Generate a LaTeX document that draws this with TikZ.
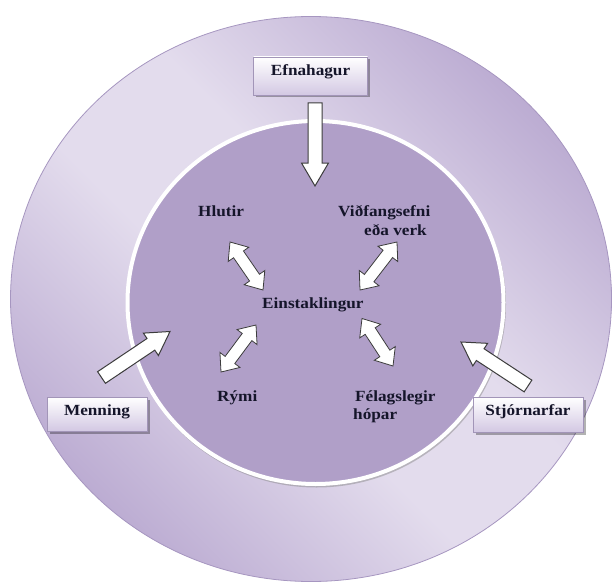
\documentclass[tikz,border=0pt]{standalone}
\usepackage{fontspec}
\setmainfont{Liberation Serif}
\newfontfamily\labfont[FakeStretch=1.11]{Liberation Serif}
\usetikzlibrary{calc,shadows}
\definecolor{ringend}{HTML}{BAAAD1}
\definecolor{ringmid}{HTML}{E3DCED}
\definecolor{ringline}{HTML}{A696C0}
\definecolor{innerfill}{HTML}{B09FC8}
\definecolor{boxbot}{HTML}{D3C8E3}
\definecolor{boxline}{HTML}{A295B8}
\definecolor{textcol}{HTML}{15152A}
\definecolor{arrline}{HTML}{3C3C3C}
\pgfdeclarehorizontalshading{ringshade}{100bp}{color(0bp)=(ringend); color(24bp)=(ringend); color(44bp)=(ringmid); color(56bp)=(ringmid); color(76bp)=(ringend); color(100bp)=(ringend)}
\tikzset{
  labfnt/.style={font=\labfont\bfseries\fontsize{15.5}{19}\selectfont, text=textcol},
  boxnode/.style={rectangle, draw=boxline, line width=0.6pt, top color=white, bottom color=boxbot,
    inner sep=0pt, labfnt, text height=11pt,
    drop shadow={shadow xshift=2.5pt, shadow yshift=-2.5pt, fill=black, opacity=0.3}},
  lab/.style={inner sep=0pt, anchor=base west, labfnt},
  bigarr/.style={draw=arrline, line width=1pt, fill=white, line join=miter},
  dblarr/.style={draw=arrline, line width=0.8pt, fill=white, line join=miter},
}
\newcommand\bigarrow[2]{%
  \coordinate (#1c) at ($(#2)!23pt!(#1)$);
  \draw[bigarr] ($(#1)!7pt!90:(#2)$) -- ($(#1c)!7pt!90:(#2)$) -- ($(#1c)!13.5pt!90:(#2)$) -- (#2)
    -- ($(#1c)!13.5pt!-90:(#2)$) -- ($(#1c)!7pt!-90:(#2)$) -- ($(#1)!7pt!-90:(#2)$) -- cycle;}
\newcommand\dblarrow[2]{%
  \coordinate (#1c) at ($(#1)!15pt!(#2)$);
  \coordinate (#2c) at ($(#2)!15pt!(#1)$);
  \draw[dblarr] (#1) -- ($(#1c)!12.5pt!90:(#2)$) -- ($(#1c)!6pt!90:(#2)$) -- ($(#2c)!6pt!90:(#2)$)
    -- ($(#2c)!12.5pt!90:(#2)$) -- (#2) -- ($(#2c)!12.5pt!-90:(#2)$) -- ($(#2c)!6pt!-90:(#2)$)
    -- ($(#1c)!6pt!-90:(#2)$) -- ($(#1c)!12.5pt!-90:(#2)$) -- cycle;}
\begin{document}
\begin{tikzpicture}[x=1pt,y=-1pt]
\useasboundingbox (0,0) rectangle (612,583);
% outer ring
\path[draw=ringline, line width=0.8pt, shading=ringshade, shading angle=45]
  (311,299) ellipse (300.5 and 282.5);
% inner circle with white rim and soft shadow
\draw[black!45, line width=3pt, opacity=0.5] (316.5,304.5) ellipse (188 and 181.5);
\draw[white, line width=4pt, fill=innerfill] (315.5,302.5) ellipse (188 and 181.5);
% text nodes
\node[lab] (hlu) at (198,216.5) {Hlutir};
\node[lab] (vid1) at (338,216.5) {Viðfangsefni};
\node[lab] (vid2) at (364,235.5) {eða verk};
\node[lab] (ein) at (262,308.5) {Einstaklingur};
\node[lab] (rym) at (217,401) {Rými};
\node[lab] (fel1) at (355,401) {Félagslegir};
\node[lab] (fel2) at (353,419.5) {hópar};
% boxes
\node[boxnode, minimum width=114pt, minimum height=38pt, text depth=12.5pt] (efn) at (310.5,76) {Efnahagur};
\node[boxnode, minimum width=100pt, minimum height=34pt, text depth=9pt] (men) at (97,414) {Menning};
\node[boxnode, minimum width=110pt, minimum height=35pt, text depth=10pt] (stj) at (528,414.5) {Stjórnarfar};
% big arrows
\coordinate (efA) at (315,103);
\coordinate (efB) at (315,186);
\coordinate (meA) at (101.5,377.5);
\coordinate (meB) at (170,331.5);
\coordinate (stA) at (528,386);
\coordinate (stB) at (461,342);
\bigarrow{efA}{efB}
\bigarrow{meA}{meB}
\bigarrow{stA}{stB}
% double arrows
\coordinate (hlA) at (230,242);
\coordinate (hlB) at (263,290);
\coordinate (viA) at (397,242);
\coordinate (viB) at (360,290);
\coordinate (ryA) at (256,325);
\coordinate (ryB) at (221,372);
\coordinate (feA) at (362,318.5);
\coordinate (feB) at (393,366);
\dblarrow{hlA}{hlB}
\dblarrow{viA}{viB}
\dblarrow{ryA}{ryB}
\dblarrow{feA}{feB}
\end{tikzpicture}
\end{document}
